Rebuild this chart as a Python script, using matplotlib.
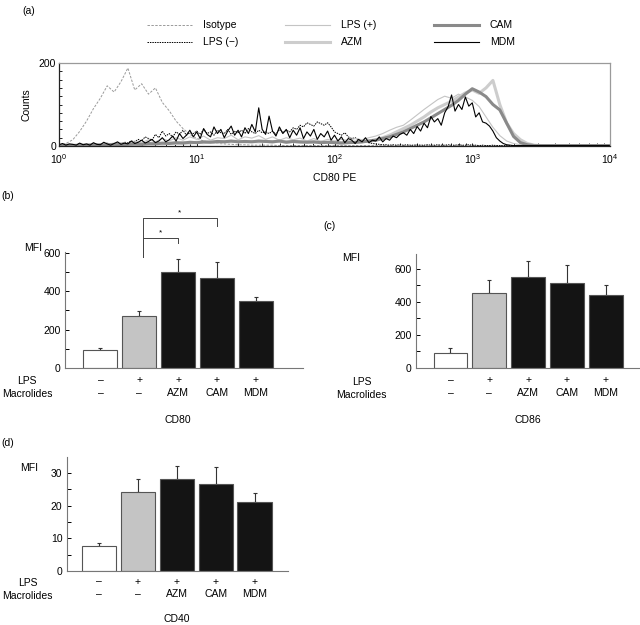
import numpy as np
import matplotlib
matplotlib.use("Agg")
import matplotlib.pyplot as plt
from matplotlib.lines import Line2D
from matplotlib.ticker import MultipleLocator, LogLocator, NullFormatter

plt.rcParams["font.family"] = ["Liberation Sans", "DejaVu Sans"]
plt.rcParams["mathtext.default"] = "regular"
plt.rcParams["font.size"] = 7.5

W, H = 640, 625

# ---------------- panel (a): CD80 PE histogram ----------------
# channel grids in log10 units from 10^0 to 10^4
log_channel = np.arange(81) * 0.05        # coarse: 20 channels per decade
log_channel_fine = np.arange(161) * 0.025  # fine: 40 channels per decade

isotype = [2, 6, 15, 35, 60, 90, 115, 145, 130, 155, 188, 135, 150, 125, 140, 105, 85, 60, 42, 28,
           18, 12, 9, 6, 5, 4, 3, 3, 2, 2, 2, 2, 1, 1, 1, 1, 1, 1, 1, 1,
           1, 1, 1, 1, 1, 1, 1, 1, 1, 1, 1, 1, 1, 1, 1, 1, 1, 1, 1, 1,
           1, 1, 1, 1, 1, 1, 1, 1, 1, 1, 1, 1, 1, 1, 1, 1, 1, 1, 1, 1, 1]
lps_pos = [1, 2, 1, 3, 2, 4, 3, 6, 4, 8, 6, 12, 8, 15, 10, 18, 12, 20, 14, 22,
           16, 24, 14, 20, 18, 26, 15, 22, 19, 25, 16, 22, 14, 20, 15, 19, 12, 18, 11, 16,
           12, 16, 13, 18, 15, 20, 24, 30, 38, 45, 50, 62, 75, 88, 100, 112, 120, 115, 125, 118,
           110, 95, 70, 45, 25, 12, 6, 3, 2, 1, 1, 1, 1, 1, 1, 1, 1, 1, 1, 1, 1]
azm = [1, 1, 2, 1, 2, 2, 3, 2, 3, 3, 4, 3, 5, 4, 6, 5, 7, 6, 8, 7,
       9, 8, 10, 9, 11, 10, 12, 10, 11, 10, 11, 10, 12, 10, 11, 9, 10, 9, 10, 8,
       9, 8, 9, 8, 10, 12, 15, 20, 26, 34, 42, 50, 60, 70, 82, 92, 100, 108, 118, 128,
       135, 127, 140, 158, 100, 55, 30, 15, 6, 2, 1, 1, 1, 1, 1, 1, 1, 1, 1, 1, 1]
cam = [1, 2, 1, 2, 2, 3, 2, 3, 4, 3, 4, 5, 4, 6, 5, 7, 6, 8, 7, 9,
       8, 10, 9, 11, 10, 12, 10, 11, 10, 12, 11, 10, 12, 9, 11, 10, 9, 10, 8, 9,
       8, 7, 8, 9, 10, 12, 14, 18, 22, 28, 34, 42, 50, 58, 68, 78, 88, 98, 110, 125,
       138, 130, 119, 100, 87, 55, 23, 8, 3, 1, 1, 1, 1, 1, 1, 1, 1, 1, 1, 1, 1]
lps_neg = [2, 3, 1, 4, 2, 3, 5, 2, 4, 3, 6, 3, 5, 4, 7, 5, 4, 8, 6, 9,
           8, 12, 10, 16, 12, 22, 18, 14, 28, 20, 36, 24, 30, 22, 34, 28, 38, 26, 32, 30,
           36, 28, 40, 30, 34, 26, 38, 32, 30, 40, 28, 36, 32, 38, 30, 42, 34, 30, 38, 32,
           34, 30, 36, 28, 40, 32, 38, 34, 44, 40, 50, 46, 56, 52, 48, 58, 54, 50, 56, 46,
           34, 30, 26, 32, 22, 18, 20, 14, 12, 10, 8, 6, 5, 4, 3, 3, 2, 3, 2, 3,
           2, 3, 2, 2, 3, 2, 2, 3, 2, 2, 3, 2, 2, 3, 2, 2, 3, 2, 2, 3,
           2, 2, 1, 2, 1, 1, 2, 1, 1, 1, 1, 1, 1, 1, 1, 1, 1, 1, 1, 1,
           1, 1, 1, 1, 1, 1, 1, 1, 1, 1, 1, 1, 1, 1, 1, 1, 1, 1, 1, 1, 1]
mdm = [3, 6, 2, 5, 4, 2, 7, 3, 5, 2, 8, 4, 3, 9, 5, 2, 6, 10, 4, 7,
       5, 12, 6, 9, 14, 7, 11, 16, 8, 12, 20, 10, 15, 24, 12, 30, 18, 26, 38, 22,
       34, 18, 42, 28, 22, 46, 30, 40, 20, 36, 48, 26, 38, 22, 44, 30, 52, 34, 92, 40,
       28, 72, 36, 24, 46, 30, 40, 20, 38, 26, 44, 18, 34, 24, 40, 16, 30, 22, 36, 14,
       26, 12, 22, 8, 18, 14, 6, 16, 10, 20, 8, 14, 12, 22, 10, 18, 14, 24, 20, 28,
       32, 26, 40, 30, 47, 36, 55, 44, 71, 58, 66, 50, 80, 95, 123, 84, 100, 88, 118, 96,
       104, 70, 80, 58, 55, 48, 36, 20, 12, 6, 3, 2, 1, 1, 1, 1, 1, 1, 1, 1,
       1, 1, 1, 1, 1, 1, 1, 1, 1, 1, 1, 1, 1, 1, 1, 1, 1, 1, 1, 1, 1]

hist_series = [
    ("Isotype", log_channel, isotype, dict(color="#9a9a9a", lw=0.7, ls=(0, (2.5, 1.5)))),
    ("LPS (\u2212)", log_channel_fine, lps_neg, dict(color="black", lw=0.7, ls=(0, (1.5, 1)))),
    ("LPS (+)", log_channel, lps_pos, dict(color="#c4c4c4", lw=0.8, ls="-")),
    ("AZM", log_channel, azm, dict(color="#cdcdcd", lw=2.2, ls="-")),
    ("CAM", log_channel, cam, dict(color="#8a8a8a", lw=2.2, ls="-")),
    ("MDM", log_channel_fine, mdm, dict(color="black", lw=0.8, ls="-")),
]

# ---------------- bar panels ----------------
lps_row = ["\u2013", "+", "+", "+", "+"]
macrolide_row = ["\u2013", "\u2013", "AZM", "CAM", "MDM"]
bar_colors = ["white", "#c4c4c4", "#141414", "#141414", "#141414"]

cd80_mfi = [92, 270, 500, 472, 348]
cd80_err = [13, 28, 72, 84, 25]
cd86_mfi = [91, 452, 553, 513, 442]
cd86_err = [26, 79, 97, 111, 61]
cd40_mfi = [7.6, 24.1, 28.3, 26.5, 21.0]
cd40_err = [0.9, 4.0, 3.9, 5.4, 2.8]

# significance brackets on CD80: (from bar, to bar, height)
cd80_sig = [(1, 2, 682), (1, 3, 787)]


def px_rect(left, top, right, bottom):
    return [left / W, 1 - bottom / H, (right - left) / W, (bottom - top) / H]


def fig_text(x, y, s, **kw):
    fig.text(x / W, 1 - y / H, s, **kw)


fig = plt.figure(figsize=(6.4, 6.25), dpi=100)

# ---- (a) histogram
ax = fig.add_axes(px_rect(59, 63, 610, 146))
for name, grid, vals, style in hist_series:
    ax.plot(10 ** grid, vals, label=name, **style)
ax.set_xscale("log")
ax.set_xlim(1, 1e4)
ax.set_ylim(0, 200)
ax.set_yticks([0, 200])
ax.yaxis.set_minor_locator(MultipleLocator(20))
ax.xaxis.set_major_locator(LogLocator(base=10))
ax.xaxis.set_minor_locator(LogLocator(base=10, subs=np.arange(2, 10)))
ax.xaxis.set_minor_formatter(NullFormatter())
ax.tick_params(which="both", direction="in", length=2.5, width=0.6, labelsize=7.5)
ax.tick_params(axis="x", pad=4.5)
ax.tick_params(axis="y", pad=2)
for side in ["top", "right"]:
    ax.spines[side].set_color("#9a9a9a")
for side in ["left", "bottom"]:
    ax.spines[side].set_color("#222222")
for sp in ax.spines.values():
    sp.set_linewidth(0.9)
ax.tick_params(top=False, right=False, which="both")
ax.set_ylabel("Counts", fontsize=7.5, labelpad=5)
ax.set_xlabel("CD80 PE", fontsize=7.5, labelpad=5)

# legend for (a), drawn by hand in three columns
legend_cols = [147, 285, 434]
legend_rows = [25, 42]
for k, (name, grid, vals, style) in enumerate(hist_series):
    cx = legend_cols[k // 2]
    cy = legend_rows[k % 2]
    fig.add_artist(Line2D([cx / W, (cx + 45) / W], [1 - cy / H, 1 - cy / H],
                          transform=fig.transFigure, **style))
    fig_text(cx + 56, cy, name, va="center", ha="left", fontsize=7.5)


def bar_panel(rect, means, errs, xlim, ylim, major, minor, title,
              row_dx, row_dy, title_dy, mfi_dx, mfi_dy, pad):
    ax = fig.add_axes(rect)
    pos = np.arange(len(means))
    ax.bar(pos, means, width=0.875, color=bar_colors, edgecolor="#555555", linewidth=0.8, zorder=2)
    ax.errorbar(pos, means, yerr=[np.zeros(len(errs)), errs], fmt="none",
                ecolor="#333333", elinewidth=0.8, capsize=1.6, capthick=0.8, zorder=1)
    ax.set_xlim(*xlim)
    ax.set_ylim(*ylim)
    ax.yaxis.set_major_locator(MultipleLocator(major))
    ax.yaxis.set_minor_locator(MultipleLocator(minor))
    ax.tick_params(axis="y", which="both", direction="in", length=3, width=0.7, labelsize=7.5, pad=3)
    ax.set_xticks(pos)
    ax.set_xticklabels([a + "\n" + b for a, b in zip(lps_row, macrolide_row)], linespacing=1.35)
    ax.tick_params(axis="x", length=0, labelsize=7.5, pad=pad)
    for side in ["top", "right"]:
        ax.spines[side].set_visible(False)
    for side in ["left", "bottom"]:
        ax.spines[side].set_color("#777777")
        ax.spines[side].set_linewidth(0.8)
    ax.annotate("LPS\nMacrolides", xy=(0, 0), xycoords="axes fraction", xytext=(row_dx, row_dy),
                textcoords="offset pixels", ha="center", va="center", multialignment="center",
                linespacing=1.35, fontsize=7.5)
    ax.annotate(title, xy=(2, 0), xycoords=("data", "axes fraction"), xytext=(0, title_dy),
                textcoords="offset pixels", ha="center", va="center", fontsize=7.5)
    ax.annotate("MFI", xy=(0, 1), xycoords="axes fraction", xytext=(mfi_dx, mfi_dy),
                textcoords="offset pixels", ha="center", va="center", fontsize=7.5)
    return ax


ax_b = bar_panel(px_rect(65, 252.3, 303.3, 367.7), cd80_mfi, cd80_err, (-0.91, 5.22), (0, 605),
                 200, 100, "CD80", -38, -20, -52, -32, 4, 5.5)
ax_c = bar_panel(px_rect(415.7, 254, 640, 367.7), cd86_mfi, cd86_err, (-0.896, 4.88), (0, 691),
                 200, 100, "CD86", -54, -21, -52, -65, -4, 5.5)
ax_d = bar_panel(px_rect(66.7, 457.3, 288, 571), cd40_mfi, cd40_err, (-0.825, 4.86), (0, 34.8),
                 10, 5, "CD40", -39, -18.5, -48, -38, -11, 4)

# significance brackets on CD80
for i, j, h in cd80_sig:
    left = i + 0.09
    ax_b.plot([left, left, j, j], [582, h, h, h - 30 - 15 * (j - 2)], color="#444444",
              lw=0.7, clip_on=False)
    ax_b.text((left + j) / 2, h + 8, "*", ha="center", va="bottom", fontsize=6)

fig_text(29, 11, "(a)", ha="center", va="center", fontsize=7.5)
fig_text(8, 196, "(b)", ha="center", va="center", fontsize=7.5)
fig_text(330, 226, "(c)", ha="center", va="center", fontsize=7.5)
fig_text(8, 443, "(d)", ha="center", va="center", fontsize=7.5)

fig.savefig("out.png", dpi=100)
